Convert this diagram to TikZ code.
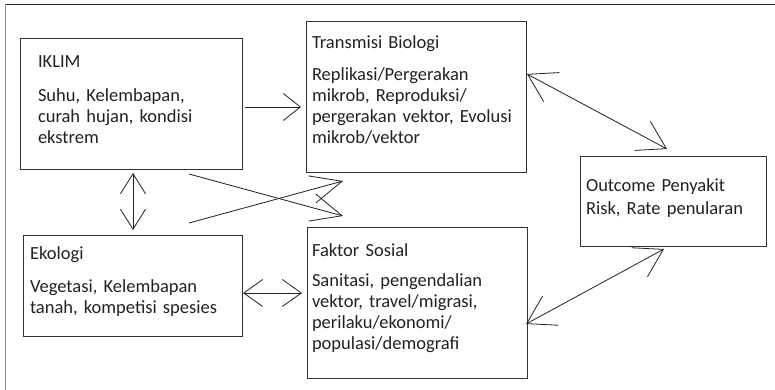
\documentclass[tikz,border=0pt]{standalone}
\usepackage{fontspec}
\setmainfont{Carlito}
\usetikzlibrary{arrows.meta,calc}
\definecolor{ink}{HTML}{222222}
\definecolor{edge}{HTML}{333333}
\begin{document}
\begin{tikzpicture}[x=1pt,y=-1pt,
  box/.style={draw=edge, line width=0.9pt, anchor=north west, inner sep=0pt, outer sep=0pt},
  txt/.style={anchor=base west, inner sep=0pt, outer sep=0pt, text=ink, align=left, text width=230pt,
    font=\fontsize{18.5}{21}\selectfont},
  conn/.style={draw=ink, line width=0.8pt},
  barbA/.style={-{Straight Barb[length=17pt,width=27pt]}},
  barbV/.style={{Straight Barb[length=20pt,width=25pt]}-{Straight Barb[length=20pt,width=25pt]}},
  barbH/.style={{Straight Barb[length=19pt,width=27pt]}-{Straight Barb[length=19pt,width=27pt]}},
  barbX/.style={-{Straight Barb[length=31pt,width=28pt]}},
  barbD/.style={{Straight Barb[length=27pt,width=33pt]}-{Straight Barb[length=27pt,width=33pt]}},
]
\useasboundingbox (0,0) rectangle (775,390);
\fill[white] (0,0) rectangle (775,390);
% outer frame (top and left edges only)
\draw[black!85, line width=1.2pt] (5,4.5) -- (775,4.5);
\draw[black!45, line width=1.5pt] (5.5,4) -- (5.5,390);

% boxes
\node[box, minimum width=222pt, minimum height=131pt] (iklim) at (20,38) {};
\node[box, minimum width=220pt, minimum height=151pt] (trans) at (306,21) {};
\node[box, minimum width=186pt, minimum height=90pt] (outcome) at (580,156) {};
\node[box, minimum width=219pt, minimum height=101pt] (eko) at (23,235) {};
\node[box, minimum width=220pt, minimum height=151pt] (faktor) at (307,227) {};

% texts
\node[txt] (iklimT) at (38,68) {IKLIM};
\node[txt] (iklimB) at (38,102) {Suhu, Kelembapan,\\curah hujan, kondisi\\ekstrem};
\node[txt] (transT) at (312,49) {Transmisi Biologi};
\node[txt] (transB) at (312,80.5) {Replikasi/Pergerakan\\mikrob, Reproduksi/\\pergerakan vektor, Evolusi\\mikrob/vektor};
\node[txt, font=\fontsize{18.5}{23}\selectfont] (outT) at (586,191) {Outcome Penyakit\\Risk, Rate penularan};
\node[txt] (ekoT) at (30,259) {Ekologi};
\node[txt] (ekoB) at (30,292) {Vegetasi, Kelembapan\\tanah, kompetisi spesies};
\node[txt] (fakT) at (312,256) {Faktor Sosial};
\node[txt] (fakB) at (312,286.5) {Sanitasi, pengendalian\\vektor, travel/migrasi,\\perilaku/ekonomi/\\populasi/demografi};

% connectors
\draw[conn, barbA] ($(iklim.east)+(3,3.5)$) -- ($(trans.west)+(-5,10.5)$);
\draw[conn, barbV] ($(iklim.south)+(2,4)$) -- ($(eko.north)+(0.5,-5)$);
\draw[conn, barbH] ($(eko.east)+(1,7.5)$) -- ($(faktor.west)+(-5,-9.5)$);
\draw[conn, barbX] ($(iklim.south east)+(-53,5)$) -- ($(faktor.north west)+(36,-11)$);
\draw[conn, barbX] ($(eko.north east)+(-53,-12)$) -- ($(trans.south west)+(37,9)$);
\draw[conn, barbD] ($(trans.east)+(1,-22.5)$) -- ($(outcome.north)+(-6,-7)$);
\draw[conn, barbD] ($(outcome.south)+(-9,3)$) -- ($(faktor.east)+(-1,21.5)$);
\end{tikzpicture}
\end{document}
